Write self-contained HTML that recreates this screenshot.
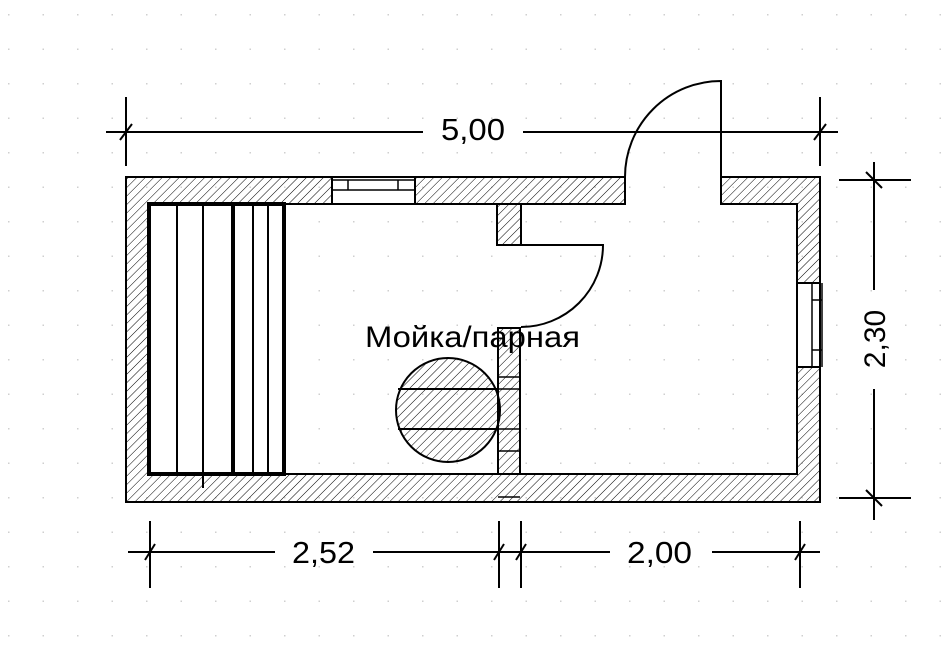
<!DOCTYPE html>
<html><head><meta charset="utf-8"><style>
html,body{margin:0;padding:0;background:#fff;}
svg{display:block;}
text{font-family:"Liberation Sans","DejaVu Sans",sans-serif;fill:#000;}
</style></head><body>
<svg width="941" height="660" viewBox="0 0 941 660" xmlns="http://www.w3.org/2000/svg">
<defs>
<pattern id="dots" x="8" y="14" width="34.5" height="34.5" patternUnits="userSpaceOnUse">
<rect x="0" y="0" width="1.5" height="1.5" fill="#cfcfcf"/>
</pattern>
<pattern id="hatch" width="6" height="6" patternUnits="userSpaceOnUse" patternTransform="rotate(45)">
<line x1="0" y1="0" x2="0" y2="6" stroke="#000" stroke-width="1"/>
</pattern>
</defs>
<rect width="941" height="660" fill="url(#dots)"/>

<g stroke="#000" stroke-width="2" fill="none">
<path d="M126,177 H625 V204 H148 V474 H797 V204 H721 V177 H820 V502 H126 Z" fill="url(#hatch)"/>
<rect x="332" y="177" width="83" height="27" fill="#fff"/>
<line x1="332" y1="180" x2="415" y2="180" stroke-width="1.5"/>
<line x1="332" y1="190" x2="415" y2="190" stroke-width="1.5"/>
<line x1="348" y1="180" x2="348" y2="190" stroke-width="1.5"/>
<line x1="398" y1="180" x2="398" y2="190" stroke-width="1.5"/>
<rect x="797" y="283" width="23" height="84" fill="#fff"/>
<line x1="812" y1="283" x2="812" y2="367" stroke-width="1.5"/>
<line x1="822" y1="283" x2="822" y2="367" stroke-width="1.5"/>
<line x1="812" y1="300" x2="822" y2="300" stroke-width="1.5"/>
<line x1="812" y1="350" x2="822" y2="350" stroke-width="1.5"/>
<path d="M497,204 V245 H521 V204" fill="url(#hatch)"/>
<path d="M521,245 H603 A82,82 0 0 1 521,327"/>
<rect x="498" y="328" width="22" height="146" fill="url(#hatch)"/>
<line x1="498" y1="377" x2="520" y2="377" stroke-width="1.5"/>
<line x1="498" y1="389" x2="520" y2="389" stroke-width="1.5"/>
<line x1="498" y1="429" x2="520" y2="429" stroke-width="1.5"/>
<line x1="498" y1="451" x2="520" y2="451" stroke-width="1.5"/>
<line x1="498" y1="497" x2="520" y2="497" stroke-width="1.5"/>
<circle cx="448" cy="410" r="52" fill="url(#hatch)"/>
<line x1="398" y1="389" x2="498" y2="389"/>
<line x1="398" y1="429" x2="498" y2="429"/>
<path d="M625,177 A96,96 0 0 1 721,81 V177"/>
<rect x="149" y="204" width="135" height="270" fill="#fff" stroke-width="4"/>
<line x1="177" y1="204" x2="177" y2="474"/>
<line x1="203" y1="204" x2="203" y2="488"/>
<line x1="233" y1="204" x2="233" y2="474" stroke-width="4"/>
<line x1="253" y1="204" x2="253" y2="474"/>
<line x1="268" y1="204" x2="268" y2="474"/>

<line x1="106" y1="132" x2="423" y2="132"/>
<line x1="523" y1="132" x2="838" y2="132"/>
<line x1="126" y1="97" x2="126" y2="166"/>
<line x1="820" y1="97" x2="820" y2="166"/>
<line x1="120" y1="140" x2="132" y2="124"/>
<line x1="814" y1="140" x2="826" y2="124"/>
<line x1="874" y1="162" x2="874" y2="290"/>
<line x1="874" y1="389" x2="874" y2="520"/>
<line x1="839" y1="180" x2="911" y2="180"/>
<line x1="839" y1="498" x2="911" y2="498"/>
<line x1="866" y1="172" x2="882" y2="188"/>
<line x1="866" y1="490" x2="882" y2="506"/>
<line x1="128" y1="552" x2="275" y2="552"/>
<line x1="373" y1="552" x2="610" y2="552"/>
<line x1="712" y1="552" x2="820" y2="552"/>
<line x1="150" y1="521" x2="150" y2="588"/>
<line x1="499" y1="521" x2="499" y2="588"/>
<line x1="521" y1="521" x2="521" y2="588"/>
<line x1="800" y1="521" x2="800" y2="588"/>
<line x1="145" y1="560" x2="155" y2="544"/>
<line x1="494" y1="560" x2="504" y2="544"/>
<line x1="516" y1="560" x2="526" y2="544"/>
<line x1="795" y1="560" x2="805" y2="544"/>
</g>

<text x="473" y="140" font-size="31" text-anchor="middle" textLength="64" lengthAdjust="spacingAndGlyphs">5,00</text>
<text x="292" y="563" font-size="31" textLength="63" lengthAdjust="spacingAndGlyphs">2,52</text>
<text x="627" y="563" font-size="31" textLength="65" lengthAdjust="spacingAndGlyphs">2,00</text>
<text x="885" y="339" font-size="30" text-anchor="middle" transform="rotate(-90 885 339)">2,30</text>
<text x="365" y="347" font-size="30" textLength="215" lengthAdjust="spacingAndGlyphs">Мойка/парная</text>
</svg>
</body></html>
